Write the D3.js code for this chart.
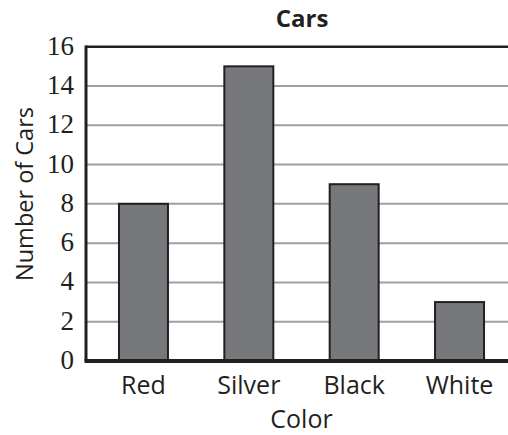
<!DOCTYPE html>
<html>
<head>
<meta charset="utf-8">
<script src="https://cdn.jsdelivr.net/npm/d3@7"></script>
<style>
  body { margin: 0; background: #fff; }
  svg { display: block; }
</style>
</head>
<body>
<svg id="chart" width="508" height="435"></svg>
<script>
// bar chart data
const colors = ["Red", "Silver", "Black", "White"];
const counts = [8, 15, 9, 3];
const yTicks = [0, 2, 4, 6, 8, 10, 12, 14, 16];

const svg = d3.select("#chart");

const plotLeft = 86, plotTop = 46.7, plotBottom = 361;
const plotRight = 517; // plot runs past the picture edge

const x = d3.scaleBand()
  .domain(colors)
  .range([plotLeft, plotRight])
  .paddingInner(0.535)
  .paddingOuter(0.313);

const y = d3.scaleLinear()
  .domain([0, 16])
  .range([plotBottom, plotTop]);

// gridlines
svg.append("g")
  .selectAll("line")
  .data(yTicks.filter(d => d > 0 && d < 16))
  .join("line")
  .attr("x1", plotLeft)
  .attr("x2", plotRight)
  .attr("y1", d => y(d))
  .attr("y2", d => y(d))
  .attr("stroke", "#9d9fa2")
  .attr("stroke-width", 2);

// top border
svg.append("line")
  .attr("x1", plotLeft).attr("x2", plotRight)
  .attr("y1", y(16)).attr("y2", y(16))
  .attr("stroke", "#231f20")
  .attr("stroke-width", 2.5);

// bars
svg.append("g")
  .selectAll("rect")
  .data(counts)
  .join("rect")
  .attr("x", (d, i) => x(colors[i]))
  .attr("y", d => y(d))
  .attr("width", x.bandwidth())
  .attr("height", d => y(0) - y(d))
  .attr("fill", "#77787b")
  .attr("stroke", "#231f20")
  .attr("stroke-width", 2);

// left axis line
svg.append("line")
  .attr("x1", plotLeft).attr("x2", plotLeft)
  .attr("y1", y(16) - 1.2).attr("y2", y(0))
  .attr("stroke", "#231f20")
  .attr("stroke-width", 3);

// baseline
svg.append("line")
  .attr("x1", plotLeft - 1.5).attr("x2", plotRight)
  .attr("y1", y(0)).attr("y2", y(0))
  .attr("stroke", "#231f20")
  .attr("stroke-width", 4);

// y tick labels
const yAxis = d3.axisLeft(y).tickValues(yTicks).tickSize(0).tickPadding(12);
svg.append("g")
  .attr("transform", "translate(" + plotLeft + ",0)")
  .call(yAxis)
  .call(g => g.select(".domain").remove())
  .selectAll("text")
  .attr("dy", "0.28em")
  .attr("font-family", "'Liberation Serif', serif")
  .attr("font-size", 27)
  .attr("fill", "#231f20");

// x tick labels
const xAxis = d3.axisBottom(x).tickSize(0).tickPadding(15);
svg.append("g")
  .attr("transform", "translate(0," + plotBottom + ")")
  .call(xAxis)
  .call(g => g.select(".domain").remove())
  .selectAll("text")
  .attr("font-family", "'Open Sans', sans-serif")
  .attr("font-size", 25)
  .attr("fill", "#231f20");

// titles
svg.append("text")
  .attr("x", 302)
  .attr("y", 26.7)
  .attr("text-anchor", "middle")
  .attr("font-family", "'Open Sans', sans-serif")
  .attr("font-weight", "bold")
  .attr("font-size", 24)
  .attr("fill", "#231f20")
  .text("Cars");

svg.append("text")
  .attr("x", 301.5)
  .attr("y", 428)
  .attr("text-anchor", "middle")
  .attr("font-family", "'Open Sans', sans-serif")
  .attr("font-size", 25)
  .attr("fill", "#231f20")
  .text("Color");

svg.append("text")
  .attr("transform", "translate(33,194) rotate(-90)")
  .attr("text-anchor", "middle")
  .attr("font-family", "'Open Sans', sans-serif")
  .attr("font-size", 23.5)
  .attr("fill", "#231f20")
  .text("Number of Cars");
</script>
</body>
</html>
